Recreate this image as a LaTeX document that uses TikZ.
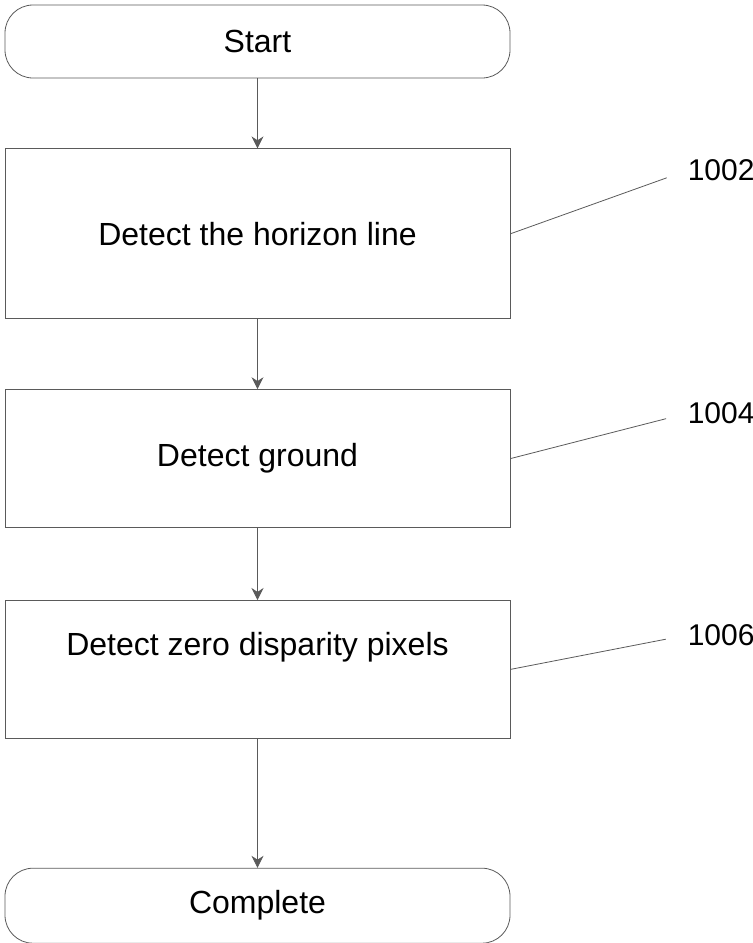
\documentclass[tikz,border=0pt]{standalone}
\usepackage{fontspec}
\setmainfont{Liberation Sans}
\usepackage{tikz}
\usetikzlibrary{arrows.meta, positioning, calc}
\definecolor{inkgray}{RGB}{90, 90, 90}

\begin{document}
\begin{tikzpicture}[
        node distance = 35pt,
        terminal/.style = {draw, inkgray, thin, rectangle, rounded corners=14pt, minimum width=252.5pt, minimum height=36.5pt, align=center, text=black, font=\fontsize{16}{19}\selectfont},
        process/.style = {draw, inkgray, thin, rectangle, minimum width=252.5pt, minimum height=69pt, align=center, text=black, font=\fontsize{16}{19}\selectfont},
        reflabel/.style = {font=\fontsize{15}{18}\selectfont, anchor=west, inner sep=0pt},
        leader/.style = {draw, inkgray, thin, shorten >=11pt},
        arrow/.style = {thin, inkgray, -{Stealth[length=6pt, width=6pt]}}
    ]
        \useasboundingbox (0,0) rectangle (376.5pt,-471.5pt);

        % Nodes
        \node [terminal] (start) at (128.75pt,-20.75pt) {Start};
        \node [process, below=of start, minimum height=85pt] (horizon) {Detect the horizon line};
        \node [process, below=of horizon] (ground) {Detect ground};
        \node [process, below=36pt of ground, text depth=26pt] (zerodisp) {Detect zero disparity pixels};
        \node [terminal, below=64.5pt of zerodisp, minimum height=37.5pt] (complete) {Complete};

        % Reference numerals
        \node [reflabel, right=88.5pt of horizon.north east, yshift=-11pt] (ref1002) {1002};
        \node [reflabel, right=88.5pt of ground.north east, yshift=-12pt] (ref1004) {1004};
        \node [reflabel, right=88.5pt of zerodisp.north east, yshift=-17.5pt] (ref1006) {1006};

        % Connections
        \draw [arrow] (start) -- (horizon);
        \draw [arrow] (horizon) -- (ground);
        \draw [arrow] (ground) -- (zerodisp);
        \draw [arrow] (zerodisp) -- (complete);

        \draw [leader] (horizon.east) -- (ref1002.west);
        \draw [leader] (ground.east) -- (ref1004.west);
        \draw [leader] (zerodisp.east) -- (ref1006.west);
    \end{tikzpicture}
\end{document}
